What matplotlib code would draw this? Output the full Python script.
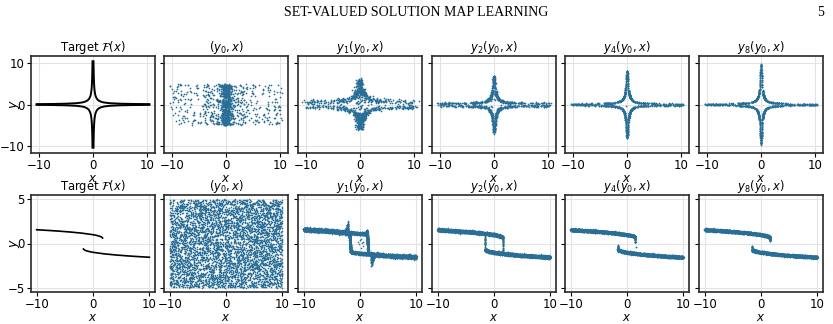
import numpy as np
import matplotlib
matplotlib.use("Agg")
import matplotlib.pyplot as plt

# ------------------------------------------------------------------ data
HEADER = "SET-VALUED SOLUTION MAP LEARNING"
PAGE = "5"
TITLES = ["Target $\\mathcal{F}(x)$", "$(y_0, x)$", "$y_1(y_0, x)$",
          "$y_2(y_0, x)$", "$y_4(y_0, x)$", "$y_8(y_0, x)$"]
XTICKS = [-10, 0, 10]
YTICKS_TOP = [-10, 0, 10]
YTICKS_BOT = [-5, 0, 5]

# Row 1 target: one branch of the cross (mirrored into the four quadrants)
top_target_x = [0.095, 0.1, 0.12, 0.15, 0.2, 0.25, 0.3, 0.4, 0.5, 0.7,
                1.0, 1.5, 2.0, 3.0, 5.0, 7.5, 10.5]
top_target_y = [10.5, 10.0, 8.33, 6.67, 5.0, 4.0, 3.33, 2.5, 2.0, 1.43,
                1.0, 0.67, 0.5, 0.33, 0.2, 0.13, 0.095]

# Row 1 learned maps: |y| read against |x|
top_prof_x = [0.0, 0.1, 0.2, 0.3, 0.5, 0.75, 1.0, 1.5, 2.0, 3.0, 5.0, 7.5, 10.5]
top_prof_y1 = [6.0, 5.3, 4.5, 3.8, 3.0, 2.5, 2.1, 1.6, 1.3, 1.0, 0.75, 0.65, 0.6]
top_prof_y2 = [6.9, 5.8, 4.3, 3.2, 2.1, 1.5, 1.15, 0.8, 0.62, 0.46, 0.35, 0.3, 0.3]
top_prof_y4 = [8.2, 6.6, 4.6, 3.3, 2.0, 1.38, 1.02, 0.68, 0.5, 0.34, 0.22, 0.17, 0.15]
top_prof_y8 = [9.8, 7.6, 4.9, 3.3, 2.0, 1.33, 1.0, 0.66, 0.5, 0.33, 0.2, 0.13, 0.1]
top_noise_y = [0.28, 0.14, 0.07, 0.04]
top_noise_x = [0.3, 0.09, 0.04, 0.02]
top_inner_frac = [0.12, 0.04, 0.01, 0.0]

# Row 2 target: upper stable branch (lower branch is its point reflection)
bot_upper_x = [-10, -8, -6, -4, -2, 0, 0.5, 1.0, 1.4, 1.6, 1.7]
bot_upper_y = [1.56, 1.485, 1.40, 1.30, 1.175, 1.0, 0.938, 0.86, 0.77, 0.70, 0.62]

# Row 2, y1: bands (x, y, count, spread)
y1_bands = [
    ([-10, -6, -3, -2.1], [1.6, 1.45, 1.27, 1.2], 2000, 0.09),
    ([-2.1, -1.7, 0.0, 1.0, 1.25], [1.2, 1.24, 1.12, 1.08, 1.4], 800, 0.07),
    ([-1.9, -1.75, -1.65], [1.2, 0.0, -0.95], 500, 0.06),
    ([1.25, 1.35, 1.45], [1.4, 0.1, -1.05], 500, 0.06),
    ([-1.65, 0.0, 1.5, 2.0], [-0.95, -1.12, -1.2, -1.2], 800, 0.07),
    ([2.0, 3.0, 6.0, 10.0], [-1.2, -1.27, -1.42, -1.52], 2000, 0.09),
]
y1_spike_up_x = [-2.9, -2.6, -2.4, -2.25, -2.15, -2.05]
y1_spike_up_top = [1.3, 1.5, 1.8, 2.2, 2.6, 1.3]
y1_spike_dn_x = [1.95, 2.02, 2.1, 2.3, 2.6, 2.9]
y1_spike_dn_bot = [-1.3, -2.7, -2.3, -1.8, -1.45, -1.3]
y1_inner_x = [0.0, 0.3, -0.2, 0.5, 0.1, -0.4, 0.6, 0.25]
y1_inner_y = [0.35, 0.1, -0.1, -0.3, -0.5, 0.2, 0.2, 0.5]

# Row 2, y2 / y4 / y8: branch ends, switching segments and hooks
bot_upper_end = [1.55, 1.47, 1.6]
bot_lower_start = [-1.6, -1.65, -1.55]
y2_extra = [([-1.6, -1.6], [1.1, -0.85], 45, 0.02),
            ([1.6, 1.6], [0.8, -1.05], 45, 0.02)]
y4_extra = [([1.47, 1.48, 1.5], [0.8, 0.5, 0.15], 30, 0.02),
            ([-1.65, -1.66, -1.64], [-0.2, -0.55, -0.9], 30, 0.02),
            ([1.6, 1.6], [-0.4, -0.4], 2, 0.01)]
y8_extra = [([1.6, 1.61, 1.62], [0.8, 0.5, 0.25], 30, 0.02),
            ([-1.55, -1.56, -1.55], [-0.3, -0.6, -0.95], 30, 0.02)]
bot_band_sd = [0.07, 0.06, 0.06]

COLOR = "#286e96"
rng = np.random.default_rng(3)


def band(xs, ys, n, sd):
    xs = np.asarray(xs, float)
    ys = np.asarray(ys, float)
    seg = np.hypot(np.diff(xs) / 20.0, np.diff(ys) / 10.0)
    cum = np.concatenate([[0], np.cumsum(seg)])
    t = rng.uniform(0, cum[-1], n)
    px = np.interp(t, cum, xs)
    py = np.interp(t, cum, ys)
    return px + rng.normal(0, sd * 0.6, n), py + rng.normal(0, sd, n)


def fill_spike(xs, edge, base, n):
    px = rng.uniform(min(xs), max(xs), n)
    e = np.interp(px, xs, edge)
    u = rng.uniform(0, 1, n) ** 0.7
    return px, base + u * (e - base)


# ------------------------------------------------------------------ figure
W, H, DPI = 833, 324, 100
fig = plt.figure(figsize=(W / DPI, H / DPI), dpi=DPI)
fig.text(416 / W, 1 - 12 / H, HEADER, ha="center", va="center",
         family="Liberation Serif", fontsize=10)
fig.text(821 / W, 1 - 12 / H, PAGE, ha="center", va="center",
         family="Liberation Serif", fontsize=10)

lefts = [31, 164, 298, 432, 565, 699]
aw, ah = 124, 97
tops = [56, 195]


def make_ax(col, row):
    ax = fig.add_axes([lefts[col] / W, 1 - (tops[row] + ah) / H, aw / W, ah / H])
    ax.grid(True, color="#e3e3e3", lw=0.8)
    ax.set_axisbelow(True)
    for s in ax.spines.values():
        s.set_color("#2a2a2a")
        s.set_linewidth(1.2)
    ax.tick_params(labelsize=8.5, length=3, width=0.8, pad=1.5)
    ax.set_xticks(XTICKS)
    ax.set_title(TITLES[col], fontsize=8.3, pad=1.5)
    ax.set_xlabel("$x$", fontsize=8.5, labelpad=-0.5)
    if col == 0:
        ax.set_ylabel("$y$", fontsize=9)
        ax.yaxis.set_label_coords(-0.075, 0.5)
    return ax


def finish(ax, col, row):
    if row == 0:
        ax.set_xlim(-11.55, 11.55)
        ax.set_ylim(-11.8, 11.8)
        ax.set_yticks(YTICKS_TOP)
    else:
        ax.set_xlim(-11.0, 11.0)
        ax.set_ylim(-5.5, 5.5)
        ax.set_yticks(YTICKS_BOT)
    if col > 0:
        ax.set_yticklabels([])


# ---------------- row 1
ax = make_ax(0, 0)
tx = np.array(top_target_x)
ty = np.array(top_target_y)
for sx in (1, -1):
    for sy in (1, -1):
        ax.plot(sx * tx, sy * ty, color="black", lw=1.4)
finish(ax, 0, 0)

# shared samples (x, y0)
x_top = np.concatenate([np.clip(rng.normal(0, 0.6, 520), -2.5, 2.5),
                        rng.uniform(-4, 4, 130),
                        rng.uniform(-10.5, 10.5, 380)])
y0_top = rng.uniform(-5, 5, x_top.size)
ax = make_ax(1, 0)
ax.scatter(x_top, y0_top, s=1.5, color=COLOR, lw=0)
finish(ax, 1, 0)

profs = [top_prof_y1, top_prof_y2, top_prof_y4, top_prof_y8]
for k in range(4):
    ax = make_ax(k + 2, 0)
    n = x_top.size
    sgn = np.where(y0_top >= 0, 1.0, -1.0)
    mag = np.interp(np.abs(x_top), top_prof_x, profs[k])
    inner = (rng.uniform(0, 1, n) < top_inner_frac[k]) & (np.abs(x_top) < 2.5)
    mag = np.where(inner, mag * rng.uniform(0, 1, n), mag)
    py = sgn * mag + rng.normal(0, top_noise_y[k], n)
    px = x_top + rng.normal(0, top_noise_x[k], n)
    ax.scatter(px, py, s=1.5, color=COLOR, lw=0)
    finish(ax, k + 2, 0)

# ---------------- row 2
ax = make_ax(0, 1)
ux = np.array(bot_upper_x, float)
uy = np.array(bot_upper_y, float)
ax.plot(ux, uy, color="black", lw=1.2)
ax.plot(-ux, -uy, color="black", lw=1.2)
finish(ax, 0, 1)

ax = make_ax(1, 1)
x_bot = rng.uniform(-10, 10, 5000)
y0_bot = rng.uniform(-5, 5, 5000)
ax.scatter(x_bot, y0_bot, s=1.3, color=COLOR, lw=0)
finish(ax, 1, 1)

# y1
ax = make_ax(2, 1)
pts = [band(*b) for b in y1_bands]
pts.append(fill_spike(y1_spike_up_x, y1_spike_up_top, 1.2, 300))
pts.append(fill_spike(y1_spike_dn_x, y1_spike_dn_bot, -1.2, 300))
pts.append((np.array(y1_inner_x), np.array(y1_inner_y)))
px = np.concatenate([p[0] for p in pts])
py = np.concatenate([p[1] for p in pts])
ax.scatter(px, py, s=1.3, color=COLOR, lw=0)
finish(ax, 2, 1)

# lower branch as point reflection of the upper one, ordered by x
lx = -ux[::-1]
ly = -uy[::-1]

extras = [y2_extra, y4_extra, y8_extra]
for k in range(3):
    ax = make_ax(k + 3, 1)
    end = bot_upper_end[k]
    keep = ux < end
    uxs = np.append(ux[keep], end)
    uys = np.append(uy[keep], np.interp(end, ux, uy))
    start = bot_lower_start[k]
    keep_l = lx > start
    lxs = np.insert(lx[keep_l], 0, start)
    lys = np.insert(ly[keep_l], 0, np.interp(start, lx, ly))
    n_up = int(250 * (end + 10))
    n_lo = int(250 * (10 - start))
    pts = [band(uxs, uys, n_up, bot_band_sd[k]),
           band(lxs, lys, n_lo, bot_band_sd[k])]
    for e in extras[k]:
        pts.append(band(*e))
    px = np.concatenate([p[0] for p in pts])
    py = np.concatenate([p[1] for p in pts])
    ax.scatter(px, py, s=1.3, color=COLOR, lw=0)
    finish(ax, k + 3, 1)

fig.savefig("out.png", dpi=DPI)
